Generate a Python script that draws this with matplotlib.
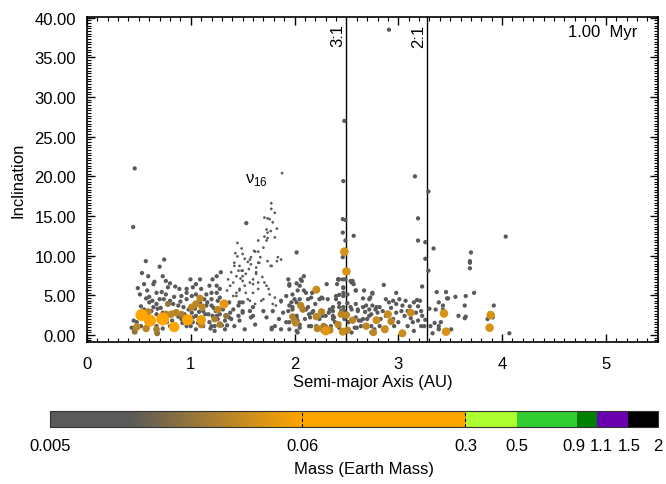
import matplotlib
matplotlib.use("Agg")
import matplotlib.pyplot as plt
import numpy as np
from matplotlib.colors import LinearSegmentedColormap, LogNorm
from matplotlib.cm import ScalarMappable
from matplotlib.ticker import MultipleLocator, NullLocator, FormatStrFormatter

plt.rcParams['font.family'] = ['Liberation Sans', 'DejaVu Sans']

# ---- data: semi-major axis (AU), inclination (deg) ----
# tiny bodies (nu16 region etc.)
tiny_pts = np.array([
    (1.776, 16.6), (1.776, 15.9), (1.81, 15.4), (1.71, 14.8), (1.74, 14.7), (1.76, 14.6),
    (1.79, 14.2), (1.73, 13.3), (1.77, 13.1), (1.83, 13.4), (1.74, 12.9), (1.71, 12.4),
    (1.74, 12.2), (1.73, 11.9), (1.81, 12.3), (1.65, 11.9), (1.70, 11.0), (1.45, 11.6),
    (1.49, 10.9), (1.43, 10.3), (1.61, 10.6), (1.62, 10.5), (1.65, 10.5), (1.50, 10.2),
    (1.45, 9.9), (1.52, 9.6), (1.57, 9.5), (1.58, 9.8), (1.55, 9.2), (1.67, 9.8),
    (1.84, 9.8), (1.87, 9.5), (1.83, 9.3), (1.74, 9.3), (1.42, 9.1), (1.88, 20.4),
    (1.36, 7.0), (1.38, 6.2), (1.41, 6.6), (1.44, 7.4), (1.46, 8.1), (1.47, 8.7),
    (1.49, 8.1), (1.50, 7.4), (1.53, 7.7), (1.58, 8.9), (1.60, 7.0), (1.63, 7.9),
    (1.63, 8.5), (1.65, 9.1), (1.71, 6.6), (1.75, 5.8), (1.77, 8.7), (1.57, 6.6),
    (1.52, 6.2), (1.47, 5.8), (1.44, 5.3), (1.41, 4.9), (1.65, 5.8), (1.60, 5.3),
    (1.42, 8.7), (1.39, 7.9), (1.50, 8.1), (1.63, 7.7), (1.65, 6.6), (1.60, 6.4),
    (1.66, 9.1), (1.78, 8.7), (1.73, 6.2), (1.50, 6.8), (1.47, 5.6), (1.53, 5.3),
    (1.44, 4.9), (1.55, 4.5), (1.70, 4.5), (1.68, 4.3), (1.57, 4.3), (1.81, 4.7),
    (1.79, 3.9), (1.87, 4.1), (1.82, 3.7), (1.48, 7.1), (1.56, 8.3), (1.69, 7.3),
    (1.35, 5.6), (1.62, 3.9), (1.76, 5.1),
])

# small bodies
small_pts = np.array([
    (0.567, 9.3), (0.744, 9.5), (0.70, 8.6), (0.53, 7.8), (0.59, 7.4), (0.65, 6.7),
    (0.64, 6.4), (0.49, 5.9), (0.55, 6.4), (0.73, 7.4), (0.76, 6.8), (0.80, 6.5),
    (0.85, 6.1), (0.89, 5.8), (0.78, 6.0), (0.72, 5.4), (0.67, 5.3), (0.60, 4.8),
    (0.57, 4.6), (0.51, 5.1), (0.60, 4.1), (0.67, 3.9), (0.70, 4.5), (0.64, 3.5),
    (0.74, 4.5), (0.80, 4.3), (0.83, 3.9), (0.91, 4.9), (0.96, 5.3), (0.997, 7.0),
    (1.09, 7.0), (1.05, 6.4), (1.02, 6.0), (0.96, 5.8), (0.96, 4.5), (1.01, 4.9),
    (1.05, 5.1), (1.10, 5.8), (1.18, 6.2), (1.21, 7.0), (1.25, 7.4), (1.29, 7.9),
    (1.15, 5.1), (1.13, 4.5), (1.20, 4.5), (1.25, 5.3), (1.28, 5.8), (1.26, 4.3),
    (1.20, 3.7), (1.15, 3.7), (1.09, 4.1), (1.12, 3.0), (1.17, 2.6), (1.21, 2.4),
    (1.26, 2.0), (1.18, 1.6), (1.23, 1.1), (1.12, 1.1), (1.05, 0.7), (1.02, 1.6),
    (0.96, 1.1), (0.91, 2.0), (0.86, 1.1), (0.80, 1.1), (0.77, 1.6), (0.78, 2.4),
    (0.83, 2.8), (0.73, 2.8), (0.70, 2.0), (0.67, 1.1), (0.62, 1.6), (0.57, 2.0),
    (0.52, 1.1), (0.48, 1.6), (0.43, 0.9), (0.45, 1.8), (0.57, 2.8), (0.62, 3.0),
    (0.67, 2.6), (0.88, 3.7), (0.93, 3.5), (1.01, 2.8), (1.05, 2.4), (0.86, 3.0),
    (0.96, 2.0), (0.55, 3.2), (0.62, 2.2), (0.68, 3.3), (0.75, 1.9), (0.82, 1.8),
    (0.88, 2.3), (0.92, 1.5), (0.98, 3.2), (1.02, 2.2), (1.07, 1.5), (1.14, 2.6),
    (1.19, 0.8), (1.24, 3.0), (1.28, 2.6), (1.30, 1.2), (1.33, 1.8), (1.25, 6.2),
    (1.20, 5.3), (1.28, 4.7), (1.37, 4.1), (1.47, 4.1),
    (0.52, 3.6), (0.58, 5.6), (0.63, 4.3), (0.71, 3.4), (0.76, 5.1), (0.84, 4.8),
    (0.90, 4.2), (0.94, 2.6), (1.00, 1.1), (1.04, 3.3), (1.08, 2.9), (1.16, 4.1),
    (1.22, 3.4), (1.31, 3.2), (1.35, 1.2), (0.50, 2.6), (0.59, 1.3), (0.73, 0.8),
    (1.41, 3.2), (1.38, 2.8), (1.34, 2.4), (1.39, 2.0), (1.46, 2.4), (1.50, 2.8),
    (1.57, 3.0), (1.60, 2.4), (1.79, 3.0), (1.87, 4.3), (1.92, 4.9), (1.94, 7.0),
    (1.95, 6.2), (1.98, 5.1), (1.98, 3.2), (1.94, 3.0), (1.89, 2.8), (1.85, 2.0),
    (1.81, 1.1), (1.78, 0.9), (1.87, 0.7), (1.95, 1.6), (1.46, 3.7), (1.50, 4.1),
    (1.95, 6.4), (2.03, 5.6), (1.50, 3.0), (1.60, 3.5), (1.70, 3.0), (1.58, 2.2),
    (1.47, 1.8), (1.37, 2.2), (1.42, 1.1), (1.33, 0.7), (1.52, 0.7), (1.62, 1.3),
    (1.73, 2.2), (1.78, 0.7), (1.92, 1.6), (2.02, 2.2), (1.95, 0.7), (1.20, 1.1),
    (1.23, 0.5), (1.25, 2.4), (1.95, 3.7),
    (2.05, 6.2), (2.06, 7.0), (2.09, 7.4), (2.02, 4.1), (2.05, 4.5), (2.03, 1.8),
    (2.05, 0.9), (2.03, 0.3), (2.14, 2.6), (2.13, 3.5), (2.17, 2.8), (2.21, 1.1),
    (2.14, 1.1), (2.24, 2.0), (2.27, 2.4), (2.32, 4.5), (2.26, 4.7), (2.37, 3.5),
    (2.40, 4.9), (2.41, 6.4), (2.30, 1.1), (2.37, 2.4), (2.43, 7.0), (2.16, 4.7),
    (2.11, 5.3), (2.02, 6.5), (2.07, 6.8), (2.09, 5.6), (2.17, 5.3), (2.31, 6.4),
    (2.42, 7.0), (2.47, 6.0), (2.55, 6.6), (2.56, 6.8), (2.47, 5.3), (2.51, 5.1),
    (2.59, 5.6), (2.75, 5.3), (2.73, 4.7), (2.00, 4.5), (1.97, 4.1), (2.13, 4.5),
    (2.24, 4.5), (2.27, 4.6), (1.98, 3.5), (2.11, 3.2), (2.18, 3.0), (2.34, 3.2),
    (2.43, 3.5), (2.48, 3.0), (2.55, 3.2), (2.61, 3.0), (2.66, 3.5), (2.72, 3.2),
    (2.79, 3.5), (2.02, 2.4), (2.15, 2.2), (2.30, 2.4), (2.37, 2.0), (2.59, 2.2),
    (2.64, 1.8), (2.72, 2.4), (2.05, 1.3), (2.16, 1.1), (2.21, 0.7), (2.35, 1.1),
    (2.43, 0.9), (2.58, 0.9), (2.69, 1.1), (2.77, 0.7), (2.02, 0.5), (2.27, 0.5),
    (2.55, 0.3), (2.74, 0.3), (2.20, 3.9), (2.33, 2.8), (2.39, 1.6), (2.10, 2.0),
    (2.48, 27.0), (2.47, 19.4), (2.465, 14.6), (2.49, 14.5), (2.465, 12.9), (2.49, 11.9),
    (2.57, 12.5), (2.465, 9.8), (2.49, 7.0), (2.465, 7.0), (2.42, 7.0), (2.54, 6.8),
    (2.57, 6.4), (2.47, 5.9), (2.59, 5.6), (2.67, 5.6), (2.86, 6.3), (2.98, 5.3),
    (2.75, 5.2), (2.91, 38.5),
    (2.43, 5.05), (2.40, 4.5), (2.37, 3.0), (2.38, 2.2), (2.47, 4.9), (2.43, 4.0),
    (2.47, 3.5), (2.45, 3.0), (2.48, 2.0), (2.51, 4.0), (2.54, 3.5), (2.59, 3.9),
    (2.61, 3.2), (2.62, 1.8), (2.64, 1.1), (2.66, 4.6), (2.72, 4.5), (2.69, 3.7),
    (2.75, 3.7), (2.78, 3.2), (2.82, 3.5), (2.80, 2.8), (2.85, 3.0), (2.83, 2.0),
    (2.88, 2.4), (2.74, 2.6), (2.70, 2.0), (2.88, 4.5), (2.91, 4.1), (2.95, 4.3),
    (2.98, 3.9), (3.01, 4.5), (3.04, 3.7), (3.07, 4.3), (3.03, 3.0), (2.98, 2.8),
    (3.06, 2.4), (3.09, 3.0), (2.95, 2.0), (3.15, 4.1), (3.18, 4.4), (3.21, 4.3),
    (3.19, 3.6), (3.22, 3.0), (3.17, 2.8), (3.23, 2.4), (3.19, 1.8), (3.25, 1.1),
    (3.22, 1.1), (3.14, 1.6), (3.15, 0.5), (3.09, 1.1), (3.00, 1.6), (2.82, 1.1),
    (2.88, 0.9), (2.74, 1.1), (2.66, 2.0), (2.60, 0.9), (2.52, 1.6),
    (2.93, 3.4), (3.11, 3.6), (2.68, 2.9), (2.96, 1.1), (3.12, 2.1), (3.26, 1.9),
    (3.19, 14.7), (3.19, 11.9), (3.26, 11.7), (3.26, 9.6), (3.29, 8.1), (3.34, 10.9),
    (3.29, 18.1), (3.16, 20.0), (3.23, 6.1), (3.37, 5.4), (3.46, 5.4), (3.55, 4.8),
    (3.65, 4.9), (3.73, 5.3), (3.70, 10.4), (3.69, 9.3), (3.69, 9.1), (3.69, 8.4),
    (3.92, 3.7), (4.035, 12.4), (4.07, 0.2), (3.47, 4.6), (3.39, 4.1), (3.36, 3.2),
    (3.30, 3.3), (3.31, 1.1), (3.35, 1.5), (3.33, 0.2), (3.39, 0.7), (3.51, 0.7),
    (3.58, 2.4), (3.64, 3.7), (3.65, 2.3), (3.89, 2.4), (3.86, 2.0), (3.91, 2.2),
    (3.64, 2.1), (3.43, 3.7), (3.43, 3.2), (3.41, 1.6), (3.39, 1.1), (3.48, 4.6),
    (0.46, 21.0), (0.445, 13.6), (1.535, 14.1), (2.02, 10.4),
])

# larger embryos: a, inc, mass (Earth masses)
big_pts = np.array([
    (0.526, 2.5, 0.08), (0.48, 1.0, 0.03), (0.46, 0.4, 0.02), (0.59, 2.9, 0.03),
    (0.606, 1.8, 0.08), (0.57, 0.8, 0.03), (0.67, 0.7, 0.025), (0.676, 0.2, 0.02),
    (0.73, 2.0, 0.09), (0.76, 2.6, 0.03), (0.78, 3.9, 0.02), (0.84, 1.0, 0.06),
    (0.81, 2.6, 0.03), (0.86, 2.8, 0.03), (0.91, 2.6, 0.025), (0.97, 1.9, 0.07),
    (1.01, 3.5, 0.03), (1.05, 3.9, 0.03), (1.09, 4.6, 0.03), (1.11, 3.5, 0.03),
    (1.10, 1.9, 0.05), (1.10, 1.3, 0.03), (1.23, 2.0, 0.025), (1.28, 1.3, 0.025),
    (1.26, 3.2, 0.03), (1.32, 3.9, 0.045), (1.34, 2.4, 0.02), (1.98, 2.3, 0.025),
    (2.01, 1.5, 0.03), (2.06, 3.7, 0.03), (2.08, 3.2, 0.025), (2.21, 5.7, 0.035),
    (2.21, 2.3, 0.03), (2.22, 0.8, 0.03), (2.26, 2.9, 0.03), (2.28, 1.1, 0.025),
    (2.30, 0.5, 0.045), (2.34, 0.6, 0.03), (2.42, 1.3, 0.03), (2.45, 2.6, 0.03),
    (2.465, 0.4, 0.035), (2.51, 0.6, 0.03), (2.50, 2.5, 0.03), (2.56, 1.85, 0.03),
    (2.69, 1.1, 0.03), (2.76, 0.3, 0.03), (2.79, 1.85, 0.035), (2.87, 0.7, 0.035),
    (2.90, 2.6, 0.035), (2.93, 1.7, 0.03), (3.04, 0.2, 0.035), (3.12, 2.8, 0.035),
    (2.48, 10.5, 0.04), (2.50, 8.0, 0.04), (3.44, 2.7, 0.04), (3.46, 0.4, 0.04),
    (3.89, 2.5, 0.04), (3.88, 0.9, 0.04), (2.00, 1.8, 0.025),
])
tiny_mass = 0.004
small_mass = 0.01

# resonances
res_a = [2.50, 3.28]
res_labels = ['3:1', '2:1']

# colour bar ticks (label nudges in points keep 0.9 and 1.1 apart)
cb_ticks = [0.005, 0.06, 0.3, 0.5, 0.9, 1.1, 1.5, 2]
cb_ticklabels = ['0.005', '0.06', '0.3', '0.5', '0.9', '1.1', '1.5', '2']
cb_nudge = [0, 0, 0, 0, -2.5, 2.5, 0, 0]

# ---- colour map on log mass ----
vmin, vmax = 0.005, 2.0
def pos(v):
    return (np.log10(v) - np.log10(vmin)) / (np.log10(vmax) - np.log10(vmin))

gray = '#5a5a5a'
nodes = [(0.0, gray), (pos(0.011), gray), (pos(0.06), '#ffa500'), (pos(0.3), '#ffa500'),
         (pos(0.3), '#adff2f'), (pos(0.5), '#adff2f'), (pos(0.5), '#32cd32'),
         (pos(0.9), '#32cd32'), (pos(0.9), '#008000'), (pos(1.1), '#008000'),
         (pos(1.1), '#6a00b0'), (pos(1.5), '#6a00b0'), (pos(1.5), '#000000'),
         (1.0, '#000000')]
cmap = LinearSegmentedColormap.from_list('mass', nodes, N=1024)
norm = LogNorm(vmin=vmin, vmax=vmax)

a_all = np.concatenate([tiny_pts[:, 0], small_pts[:, 0], big_pts[:, 0]])
i_all = np.concatenate([tiny_pts[:, 1], small_pts[:, 1], big_pts[:, 1]])
m_all = np.concatenate([np.full(len(tiny_pts), tiny_mass),
                        np.full(len(small_pts), small_mass), big_pts[:, 2]])
order = np.argsort(m_all, kind='stable')

fs = 12
fig = plt.figure(figsize=(6.66, 4.85), dpi=100)
ax = fig.add_axes([0.1306, 0.2928, 0.857, 0.670])

ax.scatter(a_all[order], i_all[order], c=m_all[order], s=950 * m_all[order],
           cmap=cmap, norm=norm, linewidths=0, zorder=3)

for x, lab in zip(res_a, res_labels):
    ax.axvline(x, color='black', lw=1.0, zorder=2)
    ax.text(x - 0.01, 39.3, lab, rotation=90, ha='right', va='top', fontsize=fs)

ax.text(1.52, 19.7, r'ν$_{\mathregular{16}}$', ha='left', va='center', fontsize=fs)
ax.text(0.965, 0.955, '1.00  Myr', transform=ax.transAxes, ha='right', va='center',
        fontsize=fs)

ax.set_xlim(0, 5.5)
ax.set_ylim(-0.9, 40.1)
ax.xaxis.set_major_locator(MultipleLocator(1))
ax.xaxis.set_minor_locator(MultipleLocator(0.1))
ax.yaxis.set_major_locator(MultipleLocator(5))
ax.yaxis.set_minor_locator(MultipleLocator(1 / 3))
ax.yaxis.set_major_formatter(FormatStrFormatter('%.2f'))
ax.tick_params(which='both', direction='in', top=True, right=True, labelsize=fs)
ax.tick_params(which='major', length=6, width=1.0)
ax.tick_params(which='minor', length=3, width=0.8)
ax.tick_params(axis='x', pad=10)
ax.tick_params(axis='y', pad=8)
for sp in ax.spines.values():
    sp.set_linewidth(1.2)
ax.set_xlabel('Semi-major Axis (AU)', fontsize=fs, labelpad=2)
ax.set_ylabel('Inclination', fontsize=fs, labelpad=6)

cax = fig.add_axes([0.075, 0.117, 0.913, 0.033])
sm = ScalarMappable(norm=norm, cmap=cmap)
cb = fig.colorbar(sm, cax=cax, orientation='horizontal')
cb.set_ticks([])
cax.xaxis.set_minor_locator(NullLocator())
cb.outline.set_linewidth(0.8)
cb.outline.set_edgecolor('#333333')
for v in (0.06, 0.3):
    cax.axvline(v, color='black', lw=0.8, ls=(0, (3, 2)))
for v, lab, dx in zip(cb_ticks, cb_ticklabels, cb_nudge):
    cax.annotate(lab, xy=(v, 0), xycoords=('data', 'axes fraction'),
                 xytext=(dx, -7.5), textcoords='offset points',
                 ha='center', va='top', fontsize=fs)
fig.text(0.547, 0.031, 'Mass (Earth Mass)', ha='center', va='center', fontsize=fs)

fig.savefig('out.png', dpi=100)
